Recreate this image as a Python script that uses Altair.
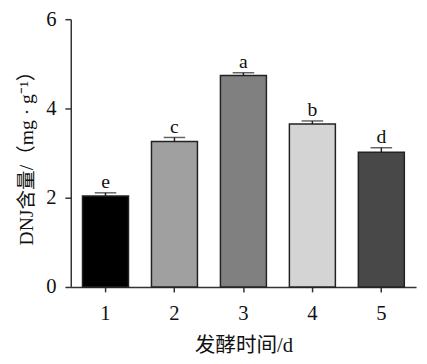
import altair as alt
import pandas as pd

days = ["1", "2", "3", "4", "5"]
values = [2.04, 3.26, 4.74, 3.65, 3.02]
errors = [0.07, 0.09, 0.06, 0.07, 0.10]
letters = ["e", "c", "a", "b", "d"]
colors = ["#000000", "#a0a0a0", "#808080", "#d4d4d4", "#484848"]

df = pd.DataFrame({"day": days, "value": values, "err": errors, "letter": letters})
df["upper"] = df["value"] + df["err"]

serif = "'Liberation Serif', 'Noto Sans CJK SC', serif"

x = alt.X("day:N", sort=days,
          scale=alt.Scale(paddingInner=0.333, paddingOuter=0.17),
          axis=alt.Axis(title="发酵时间/d", labelAngle=0, labelFont=serif, labelFontSize=21,
                        titleFont=serif, titleFontSize=21, titleFontWeight="normal",
                        labelPadding=11, titlePadding=12, tickSize=5, domainColor="#333333",
                        tickColor="#333333", labelColor="#111111", titleColor="#111111",
                        domainWidth=1.5, tickWidth=1.5))

y_scale = alt.Scale(domain=[0, 6])

bars = alt.Chart(df).mark_bar(stroke="#222222", strokeWidth=1.5).encode(
    x=x,
    y=alt.Y("value:Q", scale=y_scale,
            axis=alt.Axis(title="DNJ含量/（mg · g⁻¹）", values=[0, 2, 4, 6], labelFont=serif,
                          labelFontSize=21, titleFont=serif, titleFontSize=20,
                          titleFontWeight="normal", grid=False, tickSize=6, labelPadding=9,
                          titlePadding=10, domainColor="#333333", tickColor="#333333",
                          labelColor="#111111", titleColor="#111111",
                          domainWidth=1.5, tickWidth=1.5)),
    color=alt.Color("day:N", sort=days, scale=alt.Scale(domain=days, range=colors), legend=None),
)

stems = alt.Chart(df).mark_rule(color="#222222", strokeWidth=1.5).encode(
    x=alt.X("day:N", sort=days), y=alt.Y("value:Q", scale=y_scale), y2="upper:Q")

caps = alt.Chart(df).mark_tick(color="#222222", size=22, thickness=1.5).encode(
    x=alt.X("day:N", sort=days), y=alt.Y("upper:Q", scale=y_scale))

labels = alt.Chart(df).mark_text(font=serif, fontSize=20, baseline="bottom", dy=-1,
                                 color="#111111").encode(
    x=alt.X("day:N", sort=days), y=alt.Y("upper:Q", scale=y_scale), text="letter:N")

chart = alt.layer(bars, stems, caps, labels).properties(
    width=352, height=273,
    autosize=alt.AutoSizeParams(type="none"),
    padding={"left": 64, "top": 8, "right": 3, "bottom": 70},
).configure_view(stroke=None)

chart.save("out.html", embed_options={"renderer": "svg", "actions": False})
